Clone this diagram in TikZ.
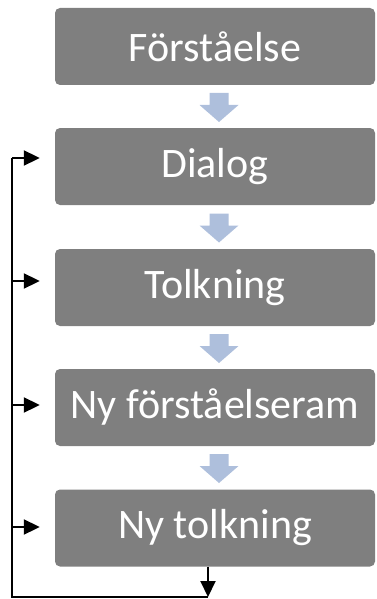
\documentclass[tikz,border=0pt]{standalone}
\usepackage{fontspec}
\setmainfont{Carlito}
\usetikzlibrary{arrows.meta}
\definecolor{boxgray}{HTML}{7F7F7F}
\definecolor{flowblue}{HTML}{AEBFDC}
\tikzset{
  stagebox/.style={fill=boxgray, rounded corners=5pt, minimum width=320pt,
    minimum height=77pt, inner sep=0pt, text=white,
    font=\fontsize{42}{50}\selectfont},
  fbline/.style={draw=black, line width=2pt},
  fbarrow/.style={fbline, -{Triangle[length=16pt,width=15pt]}},
  % block arrow pointing down, drawn around the current origin
  downarrow/.pic={
    \fill[flowblue] (-9.5,-14.5) -- (9.5,-14.5) -- (9.5,-2.5) -- (19.5,-2.5)
      -- (0,14.5) -- (-19.5,-2.5) -- (-9.5,-2.5) -- cycle;
  }
}
\begin{document}
\begin{tikzpicture}[x=1pt,y=-1pt]
\useasboundingbox (0,0) rectangle (377,599);
% stages
\node[stagebox] (b1) at (215,46.5)  {Förståelse};
\node[stagebox] (b2) at (215,166.5) {Dialog};
\node[stagebox] (b3) at (215,287.5) {Tolkning};
\node[stagebox] (b4) at (215,407.5) {Ny förståelseram};
\node[stagebox] (b5) at (215,528)   {Ny tolkning};
% flow arrows between stages
\coordinate (d1) at (219,107.5);
\coordinate (d2) at (219,228);
\coordinate (d3) at (219,348.5);
\coordinate (d4) at (219,468.5);
\foreach \d in {d1,d2,d3,d4} \pic at (\d) {downarrow};
% feedback loop
\coordinate (bl) at (12,597);
\coordinate (br) at (208,597);
\coordinate (a2) at (12,158);
\coordinate (a3) at (12,281);
\coordinate (a4) at (12,405);
\coordinate (a5) at (12,527);
\draw[fbarrow] (b5.south -| br) -- (br);
\draw[fbline] (br) -- (bl) -- (a2);
\draw[fbarrow, shorten >=15pt] (a2) -- (a2 -| b2.west);
\draw[fbarrow, shorten >=15pt] (a3) -- (a3 -| b3.west);
\draw[fbarrow, shorten >=15pt] (a4) -- (a4 -| b4.west);
\draw[fbarrow, shorten >=15pt] (a5) -- (a5 -| b5.west);
\end{tikzpicture}
\end{document}
